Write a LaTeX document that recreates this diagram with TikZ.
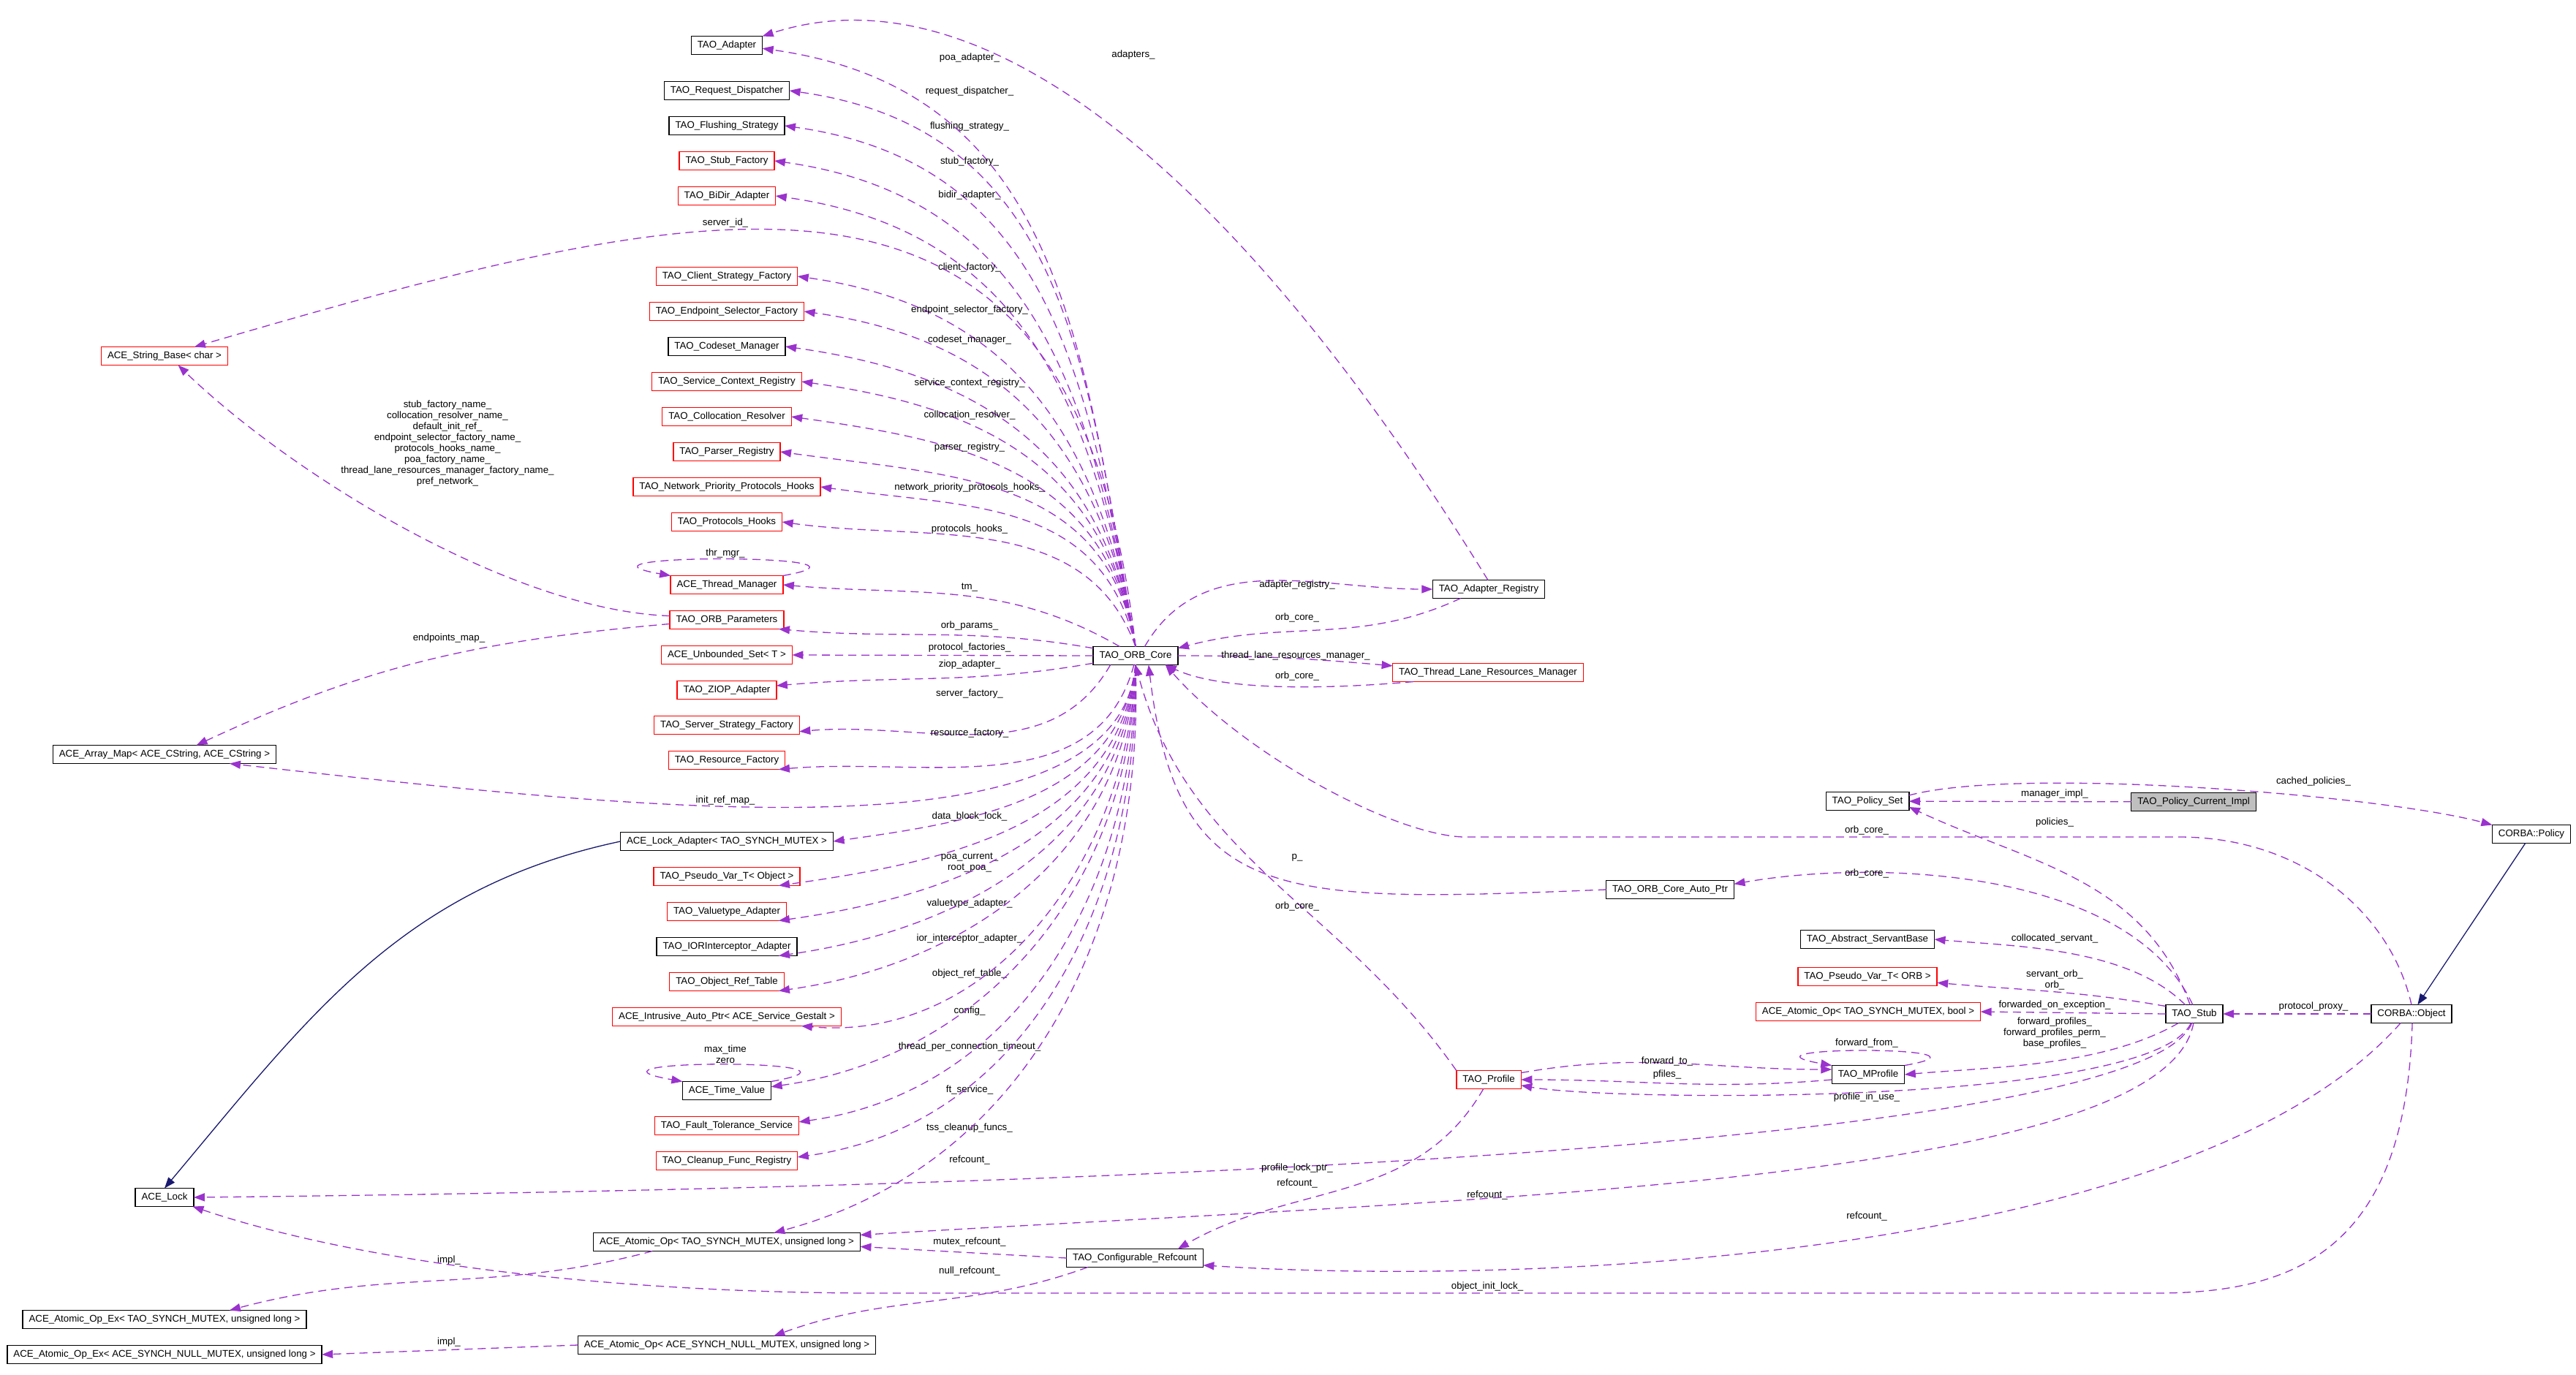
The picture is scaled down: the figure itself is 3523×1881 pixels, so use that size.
\documentclass[tikz,border=0pt]{standalone}
\usepackage{fontspec}
\setmainfont{Liberation Sans}
\usetikzlibrary{arrows.meta, positioning}
\definecolor{depline}{HTML}{9A32CD}
\definecolor{inhline}{HTML}{191970}
\definecolor{curfill}{HTML}{BFBFBF}

\begin{document}
\begin{tikzpicture}[
    x=1pt, y=1pt,
    cls/.style={rectangle, draw=black, fill=white, line width=1.4pt, outer sep=0pt, minimum height=25pt, inner xsep=8.5pt, inner ysep=2pt, font=\fontsize{13.3}{15}\selectfont},
    clsred/.style={cls, draw=red},
    clscur/.style={cls, fill=curfill},
    dep/.style={-{Triangle[length=15pt,width=11pt]}, draw=depline, line width=1.3pt, dash pattern=on 11pt off 7pt},
    inh/.style={-{Triangle[length=15pt,width=11pt]}, draw=inhline, line width=1.3pt},
    lbl/.style={font=\fontsize{13.3}{15}\selectfont, inner sep=1pt, align=center},
    node distance=23pt
]
\path[use as bounding box, fill=white] (0,0) rectangle (3523,-1881);

% column of members
\node[cls] (adapter) at (994,-62) {TAO\_Adapter};
\node[cls, below=37pt of adapter] (reqdisp) {TAO\_Request\_Dispatcher};
\node[cls, below=of reqdisp] (flush) {TAO\_Flushing\_Strategy};
\node[clsred, below=of flush] (stubfac) {TAO\_Stub\_Factory};
\node[clsred, below=of stubfac] (bidir) {TAO\_BiDir\_Adapter};
\node[clsred, below=85pt of bidir] (clientfac) {TAO\_Client\_Strategy\_Factory};
\node[clsred, below=of clientfac] (endpoint) {TAO\_Endpoint\_Selector\_Factory};
\node[cls, below=of endpoint] (codeset) {TAO\_Codeset\_Manager};
\node[clsred, below=of codeset] (svcctx) {TAO\_Service\_Context\_Registry};
\node[clsred, below=of svcctx] (colloc) {TAO\_Collocation\_Resolver};
\node[clsred, below=of colloc] (parser) {TAO\_Parser\_Registry};
\node[clsred, below=of parser] (nethooks) {TAO\_Network\_Priority\_Protocols\_Hooks};
\node[clsred, below=of nethooks] (protohooks) {TAO\_Protocols\_Hooks};
\node[clsred, below=61pt of protohooks] (thrmgr) {ACE\_Thread\_Manager};
\node[clsred, below=of thrmgr] (orbparams) {TAO\_ORB\_Parameters};
\node[clsred, below=of orbparams] (unbset) {ACE\_Unbounded\_Set< T >};
\node[clsred, below=of unbset] (ziop) {TAO\_ZIOP\_Adapter};
\node[clsred, below=of ziop] (serverfac) {TAO\_Server\_Strategy\_Factory};
\node[clsred, below=of serverfac] (resfac) {TAO\_Resource\_Factory};
\node[cls, below=86pt of resfac] (lockadapter) {ACE\_Lock\_Adapter< TAO\_SYNCH\_MUTEX >};
\node[clsred, below=of lockadapter] (pvobj) {TAO\_Pseudo\_Var\_T< Object >};
\node[clsred, below=of pvobj] (valuetype) {TAO\_Valuetype\_Adapter};
\node[cls, below=of valuetype] (iorint) {TAO\_IORInterceptor\_Adapter};
\node[clsred, below=of iorint] (objref) {TAO\_Object\_Ref\_Table};
\node[clsred, below=of objref] (gestalt) {ACE\_Intrusive\_Auto\_Ptr< ACE\_Service\_Gestalt >};
\node[cls, below=76pt of gestalt] (timeval) {ACE\_Time\_Value};
\node[clsred, below=of timeval] (ftsvc) {TAO\_Fault\_Tolerance\_Service};
\node[clsred, below=of ftsvc] (cleanup) {TAO\_Cleanup\_Func\_Registry};
\node[cls, below=86pt of cleanup] (atomicul) {ACE\_Atomic\_Op< TAO\_SYNCH\_MUTEX, unsigned long >};
\node[cls, below=116pt of atomicul] (atomicnull) {ACE\_Atomic\_Op< ACE\_SYNCH\_NULL\_MUTEX, unsigned long >};

\node[clsred] (strbase) at (225,-487) {ACE\_String\_Base< char >};
\node[cls] (arraymap) at (225,-1032) {ACE\_Array\_Map< ACE\_CString, ACE\_CString >};
\node[cls] (acelock) at (225,-1638) {ACE\_Lock};
\node[cls] (atomicextao) at (225,-1805) {ACE\_Atomic\_Op\_Ex< TAO\_SYNCH\_MUTEX, unsigned long >};
\node[cls, below=of atomicextao] (atomicexnull) {ACE\_Atomic\_Op\_Ex< ACE\_SYNCH\_NULL\_MUTEX, unsigned long >};

\node[cls] (core) at (1553,-897) {TAO\_ORB\_Core};
\node[cls] (adapterreg) at (2036,-806) {TAO\_Adapter\_Registry};
\node[clsred] (tlrm) at (2035,-920) {TAO\_Thread\_Lane\_Resources\_Manager};
\node[cls] (autoptr) at (2284,-1217) {TAO\_ORB\_Core\_Auto\_Ptr};
\node[clsred] (profile) at (2036,-1477) {TAO\_Profile};
\node[cls] (configrc) at (1552,-1721) {TAO\_Configurable\_Refcount};

\node[cls] (policyset) at (2554,-1096) {TAO\_Policy\_Set};
\node[clscur] (polcur) at (3000,-1097) {TAO\_Policy\_Current\_Impl};
\node[cls] (corbapolicy) at (3462,-1141) {CORBA::Policy};
\node[cls] (servantbase) at (2554,-1285) {TAO\_Abstract\_ServantBase};
\node[clsred] (pvorb) at (2554,-1336) {TAO\_Pseudo\_Var\_T< ORB >};
\node[clsred] (atomicbool) at (2555,-1384) {ACE\_Atomic\_Op< TAO\_SYNCH\_MUTEX, bool >};
\node[cls] (stub) at (3001,-1387) {TAO\_Stub};
\node[cls] (corbaobject) at (3298,-1387) {CORBA::Object};
\node[cls] (mprofile) at (2555,-1470) {TAO\_MProfile};

% ORB core members, upper half
\draw[dep] (core.north) to[out=100,in=-8,looseness=1.1] (adapter.-5) node[lbl] (lpoa) at (1326,-79) {poa\_adapter\_};
\draw[dep] (core.north) to[out=100,in=-8,looseness=1.1] (reqdisp.east) node[lbl] (lreq) at (1326,-125) {request\_dispatcher\_};
\draw[dep] (core.north) to[out=100,in=-8,looseness=1.1] (flush.east) node[lbl] (lflush) at (1326,-173) {flushing\_strategy\_};
\draw[dep] (core.north) to[out=100,in=-8,looseness=1.1] (stubfac.east) node[lbl] (lstubfac) at (1326,-221) {stub\_factory\_};
\draw[dep] (core.north) to[out=100,in=-8,looseness=1.1] (bidir.east) node[lbl] (lbidir) at (1326,-267) {bidir\_adapter\_};
\draw[dep] (core.north) .. controls (1470,-150) and (1000,-260) .. (strbase.17) node[lbl] (lserverid) at (992,-305) {server\_id\_};
\draw[dep] (core.north) to[out=100,in=-8,looseness=1.1] (clientfac.east) node[lbl] (lclient) at (1326,-366) {client\_factory\_};
\draw[dep] (core.north) to[out=100,in=-8,looseness=1.1] (endpoint.east) node[lbl] (lendpoint) at (1326,-424) {endpoint\_selector\_factory\_};
\draw[dep] (core.north) to[out=100,in=-8,looseness=1.1] (codeset.east) node[lbl] (lcodeset) at (1326,-465) {codeset\_manager\_};
\draw[dep] (core.north) to[out=100,in=-8,looseness=1.1] (svcctx.east) node[lbl] (lsvcctx) at (1326,-524) {service\_context\_registry\_};
\draw[dep] (core.north) to[out=100,in=-8,looseness=1.1] (colloc.east) node[lbl] (lcolloc) at (1326,-568) {collocation\_resolver\_};
\draw[dep] (core.north) to[out=100,in=-8,looseness=1.1] (parser.east) node[lbl] (lparser) at (1326,-612) {parser\_registry\_};
\draw[dep] (core.north) to[out=103,in=-8,looseness=1.1] (nethooks.east) node[lbl] (lnethooks) at (1326,-667) {network\_priority\_protocols\_hooks\_};
\draw[dep] (core.north) to[out=110,in=-8] (protohooks.east) node[lbl] (lprotohooks) at (1326,-724) {protocols\_hooks\_};
\draw[dep] (core.150) to[out=150,in=-5] (thrmgr.east) node[lbl] (ltm) at (1326,-804) {tm\_};
\draw[dep] (core.170) to[out=170,in=-5] (orbparams.-10) node[lbl] (lorbparams) at (1326,-856) {orb\_params\_};
\draw[dep] (core.west) -- (unbset.east) node[lbl] (lprotofac) at (1326,-886) {protocol\_factories\_};

% ORB core members, lower half
\draw[dep] (core.190) to[out=190,in=5] (ziop.5) node[lbl] (lziop) at (1326,-909) {ziop\_adapter\_};
\draw[dep] (core.-160) to[out=240,in=5] (serverfac.-5) node[lbl] (lserverfac) at (1326,-949) {server\_factory\_};
\draw[dep] (core.-100) to[out=255,in=5] (resfac.-10) node[lbl] (lresfac) at (1326,-1003) {resource\_factory\_};
\draw[dep] (core.south) .. controls (1530,-1180) and (900,-1110) .. (arraymap.-8) node[lbl] (linitref) at (992,-1095) {init\_ref\_map\_};
\draw[dep] (core.south) to[out=263,in=8] (lockadapter.east) node[lbl] (ldatablock) at (1326,-1117) {data\_block\_lock\_};
\draw[dep] (core.south) to[out=264,in=8] (pvobj.-10) node[lbl] (lpoacur) at (1326,-1180) {poa\_current\_\\root\_poa\_};
\draw[dep] (core.south) to[out=265,in=8] (valuetype.-10) node[lbl] (lvaluetype) at (1326,-1236) {valuetype\_adapter\_};
\draw[dep] (core.south) to[out=266,in=8] (iorint.-10) node[lbl] (liorint) at (1326,-1284) {ior\_interceptor\_adapter\_};
\draw[dep] (core.south) to[out=267,in=8] (objref.-10) node[lbl] (lobjref) at (1326,-1332) {object\_ref\_table\_};
\draw[dep] (core.south) to[out=268,in=-5] (gestalt.-7) node[lbl] (lconfig) at (1326,-1383) {config\_};
\draw[dep] (core.south) to[out=269,in=8] (timeval.5) node[lbl] (ltimeout) at (1326,-1432) {thread\_per\_connection\_timeout\_};
\draw[dep] (core.south) to[out=270,in=8] (ftsvc.3) node[lbl] (lftsvc) at (1326,-1491) {ft\_service\_};
\draw[dep] (core.south) to[out=271,in=8] (cleanup.3) node[lbl] (ltss) at (1326,-1543) {tss\_cleanup\_funcs\_};
\draw[dep] (core.south) to[out=272,in=15] (atomicul.11) node[lbl] (lrefcount0) at (1326,-1587) {refcount\_};

% self references
\draw[dep] (thrmgr.north east) to[out=10,in=170,looseness=2.9] (thrmgr.north west) node[lbl] (lthrmgr) at (992,-757) {thr\_mgr\_};
\draw[dep] (timeval.north east) to[out=10,in=170,looseness=3.8] (timeval.north west) node[lbl] (ltimeval) at (992,-1442) {max\_time\\zero};
\draw[dep] (mprofile.north east) to[out=10,in=170,looseness=4] (mprofile.north west) node[lbl] (lfwdfrom) at (2553,-1427) {forward\_from\_};

% left side
\draw[dep] (orbparams.176) .. controls (700,-835) and (400,-650) .. (strbase.-34) node[lbl] (lnames) at (612,-607) {stub\_factory\_name\_\\collocation\_resolver\_name\_\\default\_init\_ref\_\\endpoint\_selector\_factory\_name\_\\protocols\_hooks\_name\_\\poa\_factory\_name\_\\thread\_lane\_resources\_manager\_factory\_name\_\\pref\_network\_};
\draw[dep] (orbparams.184) to[out=185,in=25] (arraymap.16) node[lbl] (lendpoints) at (614,-873) {endpoints\_map\_};
\draw[inh] (lockadapter.west) to[out=192,in=50] (acelock.north);
\draw[dep] (atomicul.-173) to[out=195,in=15] (atomicextao.8) node[lbl] (limpl) at (614,-1724) {impl\_};
\draw[dep] (atomicnull.west) -- (atomicexnull.east) node[lbl] (limplnull) at (614,-1836) {impl\_};

% registry and lane resources
\draw[dep] (adapterreg.95) .. controls (1700,-250) and (1350,50) .. (adapter.north east) node[lbl] (ladapters) at (1550,-75) {adapters\_};
\draw[dep] (core.45) to[out=60,in=180] (adapterreg.west) node[lbl] (ladreg) at (1774,-800) {adapter\_registry\_};
\draw[dep] (adapterreg.-162) to[out=205,in=15] (core.10) node[lbl] (lorbcore1) at (1774,-845) {orb\_core\_};
\draw[dep] (core.east) to[out=0,in=175] (tlrm.176) node[lbl] (ltlrm) at (1772,-897) {thread\_lane\_resources\_manager\_};
\draw[dep] (tlrm.-173) to[out=185,in=-25,looseness=0.7] (core.-17) node[lbl] (lorbcore2) at (1774,-925) {orb\_core\_};
\draw[dep] (autoptr.west) .. controls (1750,-1235) and (1610,-1240) .. (core.-35) node[lbl] (lp) at (1774,-1173) {p\_};
\draw[dep] (profile.north west) to[out=125,in=-75] (core.south) node[lbl] (lorbcore3) at (1774,-1240) {orb\_core\_};
\draw[dep] (corbaobject.north) .. controls (3270,-1250) and (3150,-1145) .. (2980,-1145) -- (2000,-1145) .. controls (1900,-1140) and (1700,-1030) .. (core.-17) node[lbl] (lorbcore4) at (2553,-1136) {orb\_core\_};

% policies and stub
\draw[dep] (stub.100) to[out=115,in=10,looseness=0.8] (autoptr.5) node[lbl] (lorbcore5) at (2553,-1195) {orb\_core\_};
\draw[dep] (polcur) -- (policyset) node[lbl] (lmanager) at (2810,-1086) {manager\_impl\_};
\draw[dep] (policyset.8) to[out=15,in=165,looseness=0.5] (corbapolicy.north west) node[lbl] (lcached) at (3164,-1069) {cached\_policies\_};
\draw[dep] (stub.115) to[out=110,in=-25] (policyset.-8) node[lbl] (lpolicies) at (2810,-1125) {policies\_};
\draw[inh] (corbapolicy) -- (corbaobject);
\draw[dep] (corbaobject) -- (stub) node[lbl] (lproxy) at (3164,-1377) {protocol\_proxy\_};
\draw[dep] (stub.135) to[out=135,in=-5,looseness=0.8] (servantbase.east) node[lbl] (lcollserv) at (2810,-1284) {collocated\_servant\_};
\draw[dep] (stub.165) to[out=170,in=-5] (pvorb.-5) node[lbl] (lservorb) at (2810,-1340) {servant\_orb\_\\orb\_};
\draw[dep] (stub.west) -- (atomicbool.east) node[lbl] (lfwdexc) at (2810,-1375) {forwarded\_on\_exception\_};
\draw[dep] (stub.-150) to[out=210,in=5,looseness=0.8] (mprofile.east) node[lbl] (lfwdprof) at (2810,-1413) {forward\_profiles\_\\forward\_profiles\_perm\_\\base\_profiles\_};
\draw[dep] (stub.-110) to[out=245,in=-10,looseness=0.35] (profile.-10) node[lbl] (lprofuse) at (2553,-1501) {profile\_in\_use\_};
\draw[dep] (profile.12) to[out=10,in=180] (mprofile.172) node[lbl] (lfwdto) at (2280,-1452) {forward\_to\_};
\draw[dep] (mprofile.188) to[out=185,in=0] (profile.east) node[lbl] (lpfiles) at (2280,-1470) {pfiles\_};

% reference counts and locks
\draw[dep] (stub.-105) .. controls (2930,-1570) and (1500,-1625) .. (acelock.east) node[lbl] (lproflock) at (1774,-1598) {profile\_lock\_ptr\_};
\draw[dep] (profile.-120) to[out=240,in=30] (configrc.12) node[lbl] (lrefcount1) at (1774,-1619) {refcount\_};
\draw[dep] (stub.-95) .. controls (2960,-1620) and (2000,-1640) .. (atomicul.3) node[lbl] (lrefcount2) at (2034,-1635) {refcount\_};
\draw[dep] (corbaobject.-140) .. controls (3000,-1720) and (2100,-1760) .. (configrc.-6) node[lbl] (lrefcount3) at (2553,-1664) {refcount\_};
\draw[dep] (configrc.west) -- (atomicul.-2) node[lbl] (lmutexrc) at (1326,-1699) {mutex\_refcount\_};
\draw[dep] (configrc.-169) to[out=200,in=20] (atomicnull.11) node[lbl] (lnullrc) at (1326,-1739) {null\_refcount\_};
\draw[dep] (corbaobject.-85) .. controls (3290,-1700) and (3150,-1769) .. (2950,-1769) -- (1200,-1769) .. controls (850,-1769) and (500,-1730) .. (acelock.-18) node[lbl] (linitlock) at (2034,-1760) {object\_init\_lock\_};
\end{tikzpicture}
\end{document}
